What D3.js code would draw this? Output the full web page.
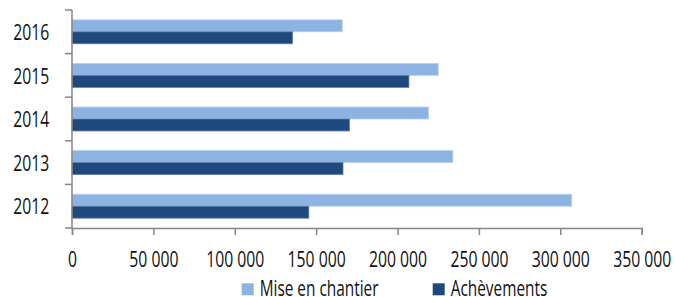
<!DOCTYPE html>
<html>
<head>
<meta charset="utf-8">
<script src="https://cdnjs.cloudflare.com/ajax/libs/d3/7.8.5/d3.min.js"></script>
<style>
  body { margin: 0; background: #fff; overflow: hidden; }
  svg text { font-family: "Open Sans", "DejaVu Sans Condensed", sans-serif; font-weight: 500; fill: #111; }
</style>
</head>
<body>
<script>
// data
const years = ["2016", "2015", "2014", "2013", "2012"];
const seriesNames = ["Mise en chantier", "Achèvements"];
const miseEnChantier = [166000, 225000, 219000, 234000, 307000];
const achevements = [135500, 207000, 170500, 166500, 145500];
const xTicks = [0, 50000, 100000, 150000, 200000, 250000, 300000, 350000];
const colours = ["#8db3e2", "#1f497d"];

const width = 675, height = 297;
const plotLeft = 72, plotRight = 641.7, plotTop = 10, plotBottom = 228;
const squeeze = 0.7;   // the original font is a condensed one

const svg = d3.select("body").append("svg")
    .attr("width", width)
    .attr("height", height);

// narrow the text horizontally, keeping its anchor in place
function condense(sel) {
    sel.each(function() {
        const x = +d3.select(this).attr("x") || 0;
        d3.select(this).attr("transform", `translate(${x * (1 - squeeze)}, 0) scale(${squeeze}, 1)`);
    });
}

const xScale = d3.scaleLinear().domain([0, 350000]).range([plotLeft, plotRight]);
const yScale = d3.scaleBand().domain(years).range([plotTop, plotBottom]).padding(0);
const inner = d3.scaleBand().domain(seriesNames).range([0, yScale.bandwidth()]).paddingOuter(0.82).paddingInner(0);

const fmt = d => d3.format(",")(d).replace(/,/g, " ");

// bars
const rows = years.map((y, i) => ({ year: y, values: [miseEnChantier[i], achevements[i]] }));
const g = svg.append("g");
rows.forEach(r => {
    r.values.forEach((v, k) => {
        g.append("rect")
            .attr("x", xScale(0))
            .attr("y", yScale(r.year) + inner(seriesNames[k]))
            .attr("width", xScale(v) - xScale(0))
            .attr("height", inner.bandwidth())
            .attr("fill", colours[k])
            .attr("stroke", k == 0 ? "#b8d0ee" : "#5d7fa8")
            .attr("stroke-width", 0.8);
    });
});

// x axis
const xAxis = svg.append("g")
    .attr("transform", `translate(0, ${plotBottom})`)
    .call(d3.axisBottom(xScale).tickValues(xTicks).tickSize(7).tickPadding(16).tickFormat(fmt));
xAxis.select(".domain").attr("stroke", "#868686").attr("stroke-width", 1.5);
xAxis.selectAll(".tick line").attr("stroke", "#868686").attr("stroke-width", 1.5);
xAxis.selectAll("text").attr("font-size", 22.5).attr("fill", "#111").call(condense);

// y axis (labels centred, ticks on band edges)
const yAxis = svg.append("g")
    .attr("transform", `translate(${plotLeft}, 0)`)
    .call(d3.axisLeft(yScale).tickSize(0).tickPadding(22.7));
yAxis.select(".domain").remove();
yAxis.selectAll("text").attr("font-size", 22.5).attr("dy", "0.36em").attr("fill", "#111").call(condense);

const edges = years.map(y => yScale(y)).concat([plotBottom]);
svg.append("line")
    .attr("x1", plotLeft).attr("x2", plotLeft)
    .attr("y1", plotTop).attr("y2", plotBottom)
    .attr("stroke", "#868686").attr("stroke-width", 1.5);
svg.selectAll(".ytick").data(edges).enter().append("line")
    .attr("x1", plotLeft - 7).attr("x2", plotLeft)
    .attr("y1", d => d).attr("y2", d => d)
    .attr("stroke", "#868686").attr("stroke-width", 1.5);

// legend
const legendX = [241.7, 432.7];
const legend = svg.append("g");
seriesNames.forEach((name, k) => {
    legend.append("rect")
        .attr("x", legendX[k]).attr("y", 283.3)
        .attr("width", 12).attr("height", 12)
        .attr("fill", colours[k]);
    legend.append("text")
        .attr("x", legendX[k] + 18).attr("y", 296.5)
        .attr("font-size", 22)
        .text(name)
        .call(condense);
});
</script>
</body>
</html>
